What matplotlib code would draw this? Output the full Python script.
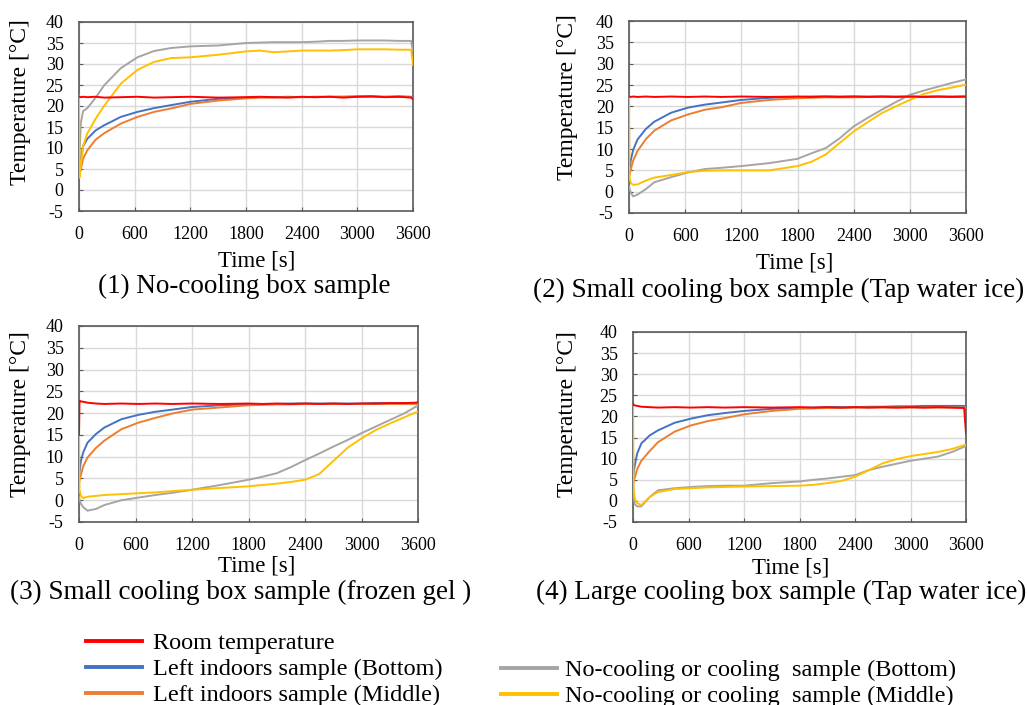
import matplotlib
matplotlib.use("Agg")
import matplotlib.pyplot as plt
from matplotlib.lines import Line2D

plt.rcParams['font.family'] = ['Liberation Serif', 'DejaVu Serif']
plt.rcParams['axes.unicode_minus'] = False

# Common sampling times [s]
t = [0, 5, 20, 45, 90, 180, 270, 450, 630, 810, 990, 1200, 1500, 1800, 1950,
     2100, 2250, 2400, 2550, 2700, 2850, 3000, 3150, 3300, 3450, 3580, 3600]

# Panel 1: No-cooling box sample
p1_room = [22.3, 22.2, 22.1, 22.2, 22.1, 22.2, 22.0, 22.1, 22.2, 22.0, 22.1, 22.2, 22.0, 22.1,
           22.2, 22.1, 22.0, 22.2, 22.1, 22.2, 22.0, 22.2, 22.3, 22.1, 22.2, 22.0, 21.6]
p1_left_bottom = [4.0, 5.0, 7.5, 10.5, 12.2, 14.2, 15.4, 17.4, 18.6, 19.5, 20.2, 21.0, 21.7, 22.0,
                  22.1, 22.1, 22.2, 22.1, 22.2, 22.2, 22.2, 22.3, 22.3, 22.2, 22.3, 22.2, 22.0]
p1_left_middle = [3.0, 3.5, 5.0, 7.5, 9.5, 12.0, 13.5, 15.8, 17.4, 18.6, 19.4, 20.5, 21.3, 21.8,
                  22.0, 22.0, 22.1, 22.1, 22.1, 22.2, 22.2, 22.2, 22.2, 22.2, 22.2, 22.1, 21.8]
p1_box_bottom = [3.0, 8.0, 16.0, 18.8, 19.5, 22.0, 24.9, 29.0, 31.6, 33.1, 33.8, 34.2, 34.4, 35.0,
                 35.1, 35.2, 35.2, 35.2, 35.3, 35.5, 35.5, 35.6, 35.6, 35.6, 35.5, 35.5, 33.0]
p1_box_middle = [22.5, 3.0, 6.0, 10.5, 13.5, 17.0, 20.0, 25.3, 28.6, 30.5, 31.4, 31.6, 32.2, 33.0,
                 33.2, 32.8, 33.0, 33.2, 33.2, 33.2, 33.3, 33.5, 33.5, 33.5, 33.4, 33.4, 29.8]

# Panel 2: Small cooling box sample (Tap water ice)
p2_room = [22.4, 22.3, 22.2, 22.3, 22.2, 22.3, 22.2, 22.3, 22.2, 22.3, 22.2, 22.3, 22.2, 22.3,
           22.2, 22.3, 22.2, 22.3, 22.2, 22.3, 22.2, 22.3, 22.2, 22.3, 22.2, 22.3, 22.2]
p2_left_bottom = [3.5, 5.0, 7.5, 9.8, 12.2, 14.7, 16.4, 18.5, 19.7, 20.4, 20.9, 21.5, 22.0, 22.2,
                  22.3, 22.3, 22.3, 22.3, 22.3, 22.3, 22.3, 22.3, 22.3, 22.3, 22.3, 22.3, 22.3]
p2_left_middle = [3.0, 4.0, 5.3, 7.3, 9.5, 12.3, 14.3, 16.7, 18.1, 19.2, 19.8, 20.8, 21.5, 21.9,
                  22.0, 22.1, 22.1, 22.1, 22.2, 22.2, 22.2, 22.2, 22.2, 22.2, 22.2, 22.2, 22.2]
p2_box_bottom = [1.2, 0.8, -0.3, -1.1, -0.7, 0.6, 2.2, 3.4, 4.5, 5.3, 5.6, 6.0, 6.7, 7.7,
                 9.0, 10.2, 12.5, 15.3, 17.3, 19.2, 21.0, 22.7, 23.7, 24.6, 25.5, 26.2, 26.3]
p2_box_middle = [22.5, 3.2, 2.0, 1.6, 1.7, 2.6, 3.3, 3.9, 4.6, 4.9, 5.0, 5.0, 5.0, 6.0,
                 7.0, 8.7, 11.4, 14.1, 16.3, 18.4, 20.0, 21.5, 22.9, 23.8, 24.4, 25.0, 25.0]

# Panel 3: Small cooling box sample (frozen gel)
p3_room = [15.0, 22.8, 22.7, 22.6, 22.4, 22.2, 22.1, 22.2, 22.1, 22.2, 22.1, 22.2, 22.1, 22.2,
           22.1, 22.2, 22.1, 22.2, 22.1, 22.2, 22.1, 22.2, 22.2, 22.3, 22.3, 22.4, 22.5]
p3_left_bottom = [5.0, 6.5, 9.0, 11.0, 13.2, 15.2, 16.7, 18.6, 19.6, 20.3, 20.8, 21.4, 21.8, 22.0,
                  22.1, 22.1, 22.2, 22.2, 22.2, 22.2, 22.2, 22.2, 22.3, 22.3, 22.3, 22.3, 22.3]
p3_left_middle = [4.0, 4.5, 5.8, 7.8, 9.8, 12.0, 13.7, 16.3, 17.8, 18.9, 19.9, 20.8, 21.3, 21.8,
                  21.9, 22.0, 22.0, 22.1, 22.1, 22.1, 22.1, 22.1, 22.1, 22.1, 22.1, 22.1, 22.1]
p3_box_bottom = [0.8, 0.3, -0.8, -1.6, -2.4, -2.0, -1.1, 0.0, 0.6, 1.2, 1.7, 2.4, 3.5, 4.7,
                 5.4, 6.2, 7.6, 9.2, 10.7, 12.3, 13.8, 15.4, 16.9, 18.4, 19.9, 21.5, 21.7]
p3_box_middle = [15.0, 2.3, 1.0, 0.5, 0.8, 1.0, 1.2, 1.4, 1.6, 1.8, 2.1, 2.4, 2.8, 3.2,
                 3.5, 3.8, 4.2, 4.7, 6.0, 9.0, 12.0, 14.2, 16.1, 17.6, 19.0, 20.2, 20.3]

# Panel 4: Large cooling box sample (Tap water ice)
p4_room = [23.0, 22.8, 22.6, 22.5, 22.3, 22.2, 22.1, 22.2, 22.1, 22.2, 22.1, 22.2, 22.1, 22.2,
           22.1, 22.2, 22.1, 22.2, 22.1, 22.2, 22.1, 22.2, 22.1, 22.2, 22.1, 22.0, 16.0]
p4_left_bottom = [5.0, 6.5, 8.5, 11.2, 13.6, 15.5, 16.7, 18.5, 19.5, 20.3, 20.8, 21.3, 21.8, 22.0,
                  22.1, 22.2, 22.2, 22.2, 22.3, 22.3, 22.4, 22.4, 22.5, 22.5, 22.5, 22.5, 22.5]
p4_left_middle = [4.0, 4.5, 5.5, 7.5, 9.5, 11.8, 13.9, 16.4, 17.9, 18.9, 19.6, 20.5, 21.3, 21.8,
                  21.9, 22.0, 22.0, 22.1, 22.1, 22.1, 22.1, 22.1, 22.1, 22.1, 22.1, 22.1, 22.1]
p4_box_bottom = [13.0, 1.0, -0.8, -1.3, -1.3, 0.9, 2.5, 3.0, 3.3, 3.5, 3.6, 3.6, 4.2, 4.6,
                 5.0, 5.3, 5.7, 6.1, 7.3, 8.1, 8.8, 9.5, 10.0, 10.5, 11.6, 12.8, 12.9]
p4_box_middle = [22.5, 3.0, 0.5, -0.5, -1.0, 0.9, 2.1, 2.8, 3.0, 3.2, 3.3, 3.4, 3.5, 3.6,
                 3.8, 4.2, 4.7, 5.7, 7.3, 8.9, 9.9, 10.6, 11.1, 11.6, 12.3, 13.2, 13.3]

panel_titles = ["(1) No-cooling box sample",
                "(2) Small cooling box sample (Tap water ice)",
                "(3) Small cooling box sample (frozen gel )",
                "(4) Large cooling box sample (Tap water ice)"]
series_labels = ["Room temperature",
                 "Left indoors sample (Bottom)",
                 "Left indoors sample (Middle)",
                 "No-cooling or cooling  sample (Bottom)",
                 "No-cooling or cooling  sample (Middle)"]
x_ticks = [0, 600, 1200, 1800, 2400, 3000, 3600]
y_ticks = [-5, 0, 5, 10, 15, 20, 25, 30, 35, 40]

colors = {"room": "#FF0000", "lb": "#4472C4", "lm": "#ED7D31",
          "bb": "#A5A5A5", "bm": "#FFC000"}

W, H = 1027, 705
fig = plt.figure(figsize=(W / 100, H / 100), dpi=100)


def fx(px):
    return px / W


def fy(py):
    return 1 - py / H


# axes boxes in pixels: left, top, right, bottom
boxes = [(79, 22, 413, 211), (629, 21, 966, 213), (79, 326, 418, 522), (633, 332, 966, 522)]
ylabel_pos = [(21, 102), (568, 97), (21, 414), (568, 414)]
xlabel_pos = [(257, 261), (795, 263), (257, 566), (791, 568)]
title_pos = [(244, 286), (779, 290), (241, 592), (781, 592)]

panels = [
    (p1_room, p1_left_bottom, p1_left_middle, p1_box_bottom, p1_box_middle),
    (p2_room, p2_left_bottom, p2_left_middle, p2_box_bottom, p2_box_middle),
    (p3_room, p3_left_bottom, p3_left_middle, p3_box_bottom, p3_box_middle),
    (p4_room, p4_left_bottom, p4_left_middle, p4_box_bottom, p4_box_middle),
]

lw = 1.4
for i, (room, lb, lm, bb, bm) in enumerate(panels):
    l, tp, r, b = boxes[i]
    ax = fig.add_axes([fx(l), fy(b), (r - l) / W, (b - tp) / H])
    ax.plot(t, lb, color=colors["lb"], lw=lw, zorder=3)
    ax.plot(t, lm, color=colors["lm"], lw=lw, zorder=3)
    ax.plot(t, bb, color=colors["bb"], lw=lw, zorder=3)
    ax.plot(t, bm, color=colors["bm"], lw=lw, zorder=3)
    ax.plot(t, room, color=colors["room"], lw=lw, zorder=4)
    ax.set_xlim(0, 3600)
    ax.set_ylim(-5, 40)
    ax.set_xticks(x_ticks)
    ax.set_yticks(y_ticks)
    ax.grid(True, color="#D9D9D9", lw=1.0)
    ax.set_axisbelow(True)
    for s in ax.spines.values():
        s.set_color("#595959")
        s.set_linewidth(1.2)
    ax.tick_params(axis='both', direction='in', length=3, color="#595959",
                   labelsize=13, pad=11)
    fig.text(fx(ylabel_pos[i][0]), fy(ylabel_pos[i][1]), "Temperature [°C]",
             rotation=90, ha='center', va='center', fontsize=17)
    fig.text(fx(xlabel_pos[i][0]), fy(xlabel_pos[i][1]), "Time [s]",
             ha='center', va='center', fontsize=16.5)
    fig.text(fx(title_pos[i][0]), fy(title_pos[i][1]), panel_titles[i],
             ha='center', va='center', fontsize=19.5)

leg_fs = 17.5
h1 = [Line2D([], [], color=colors[k], lw=2.8) for k in ("room", "lb", "lm")]
h2 = [Line2D([], [], color=colors[k], lw=2.8) for k in ("bb", "bm")]
fig.legend(h1, series_labels[:3], loc='upper left', bbox_to_anchor=(fx(86), fy(632)),
           frameon=False, fontsize=leg_fs, handlelength=2.3, handletextpad=0.45,
           labelspacing=0.17, borderpad=0, borderaxespad=0)
fig.legend(h2, series_labels[3:], loc='upper left', bbox_to_anchor=(fx(501), fy(659)),
           frameon=False, fontsize=leg_fs, handlelength=2.3, handletextpad=0.35,
           labelspacing=0.17, borderpad=0, borderaxespad=0)

fig.savefig("out.png", dpi=100)
